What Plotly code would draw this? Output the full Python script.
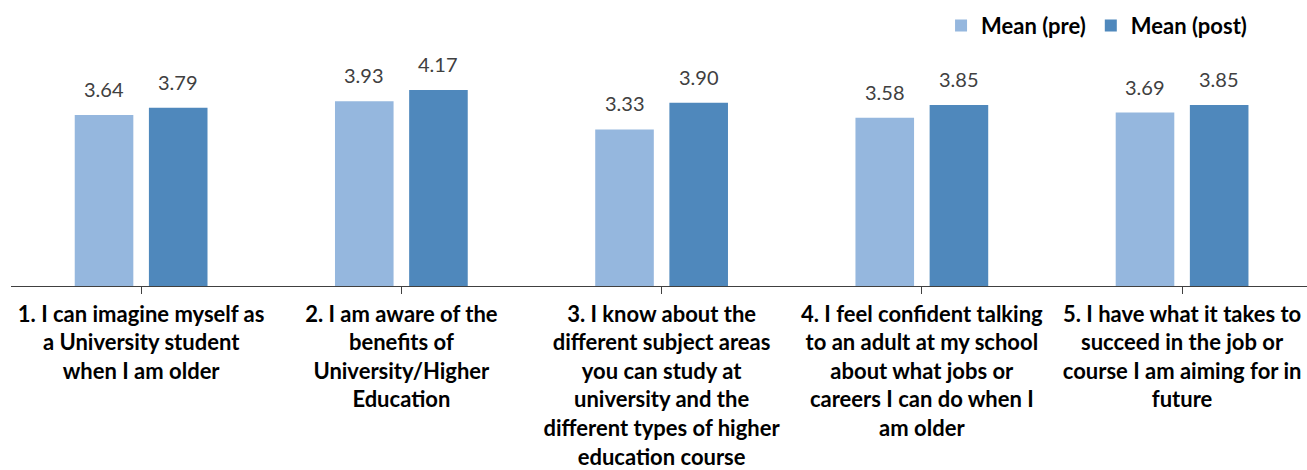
import plotly.graph_objects as go

# Survey statements (x-axis categories), wrapped the way they are printed
categories = [
    "1. I can imagine myself as<br>a University student<br>when I am older",
    "2. I am aware of the<br>benefits of<br>University/Higher<br>Education",
    "3. I know about the<br>different subject areas<br>you can study at<br>university and the<br>different types of higher<br>education course",
    "4. I feel confident talking<br>to an adult at my school<br>about what jobs or<br>careers I can do when I<br>am older",
    "5. I have what it takes to<br>succeed in the job or<br>course I am aiming for in<br>future",
]
mean_pre = [3.64, 3.93, 3.33, 3.58, 3.69]
mean_post = [3.79, 4.17, 3.90, 3.85, 3.85]
series_names = ["Mean (pre)", "Mean (post)"]

PRE_COLOR = "#95B7DE"
POST_COLOR = "#4F88BC"
FONT = "Lato"

x = list(range(len(categories)))

fig = go.Figure()
fig.add_trace(go.Bar(x=x, y=mean_pre, name=series_names[0],
                     marker=dict(color=PRE_COLOR, line=dict(width=0))))
fig.add_trace(go.Bar(x=x, y=mean_post, name=series_names[1],
                     marker=dict(color=POST_COLOR, line=dict(width=0))))

# value labels above each bar
for vals, shift in ((mean_pre, -37), (mean_post, 37)):
    for xi, v in zip(x, vals):
        fig.add_annotation(x=xi, y=v, text=f"{v:.2f}", showarrow=False,
                           xshift=shift, yanchor="bottom", yshift=12,
                           font=dict(family=FONT, size=20, color="#404040"))

fig.update_layout(
    width=1307, height=470,
    margin=dict(l=11, r=0, t=51, b=184),
    plot_bgcolor="white", paper_bgcolor="white",
    barmode="group", bargap=0.43, bargroupgap=0.21,
    showlegend=True,
    legend=dict(orientation="h", x=0.9576, xanchor="right", y=0.99, yanchor="top",
                yref="container",
                font=dict(family=FONT, size=22, color="#000000", weight="bold"),
                traceorder="normal", itemwidth=30),
    xaxis=dict(
        tickmode="array", tickvals=x, ticktext=categories, automargin=False,
        range=[-0.5, 4.48], tickson="boundaries", ticks="outside", ticklen=7,
        tickcolor="#404040", tickwidth=1.3, ticklabelstandoff=1,
        showline=True, linecolor="#404040", linewidth=1.3,
        tickfont=dict(family=FONT, size=22, color="#000000", weight="bold"),
        showgrid=False, zeroline=False, tickangle=0,
    ),
    yaxis=dict(range=[0, 5], visible=False, showgrid=False, zeroline=False),
)

fig.write_html("out.html")
